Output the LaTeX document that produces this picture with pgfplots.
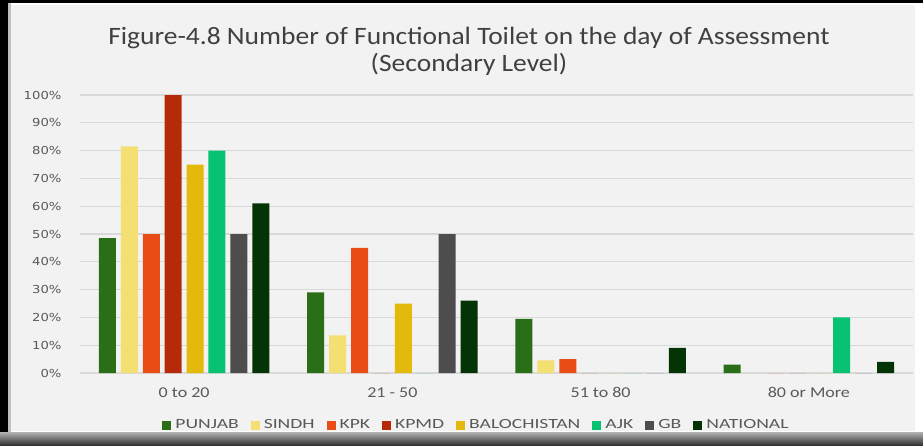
\documentclass[border=0pt]{standalone}
\usepackage{pgfplots}
\pgfplotsset{compat=1.18}
\usepackage{fontspec}
\setmainfont{Carlito}
\newfontfamily\titlefont{Carlito}[FakeStretch=1.1]
\newfontfamily\yfont{DejaVu Sans}[FakeStretch=1.2]
\newfontfamily\xfont{Carlito}[FakeStretch=1.2]
\newfontfamily\legfont{Carlito}[FakeStretch=1.4]
\definecolor{cPunjab}{HTML}{2A6E17}
\definecolor{cSindh}{HTML}{F4DF72}
\definecolor{cKPK}{HTML}{E84C17}
\definecolor{cKPMD}{HTML}{B52A09}
\definecolor{cBalo}{HTML}{E3B90B}
\definecolor{cAJK}{HTML}{07C270}
\definecolor{cGB}{HTML}{4D4D4D}
\definecolor{cNat}{HTML}{043305}
\definecolor{bgc}{HTML}{F2F2F2}
\definecolor{gridc}{HTML}{D9D9D9}
\definecolor{txt}{HTML}{595959}
\definecolor{ttl}{HTML}{404040}
\begin{document}
\begin{tikzpicture}
% frame
\fill[white] (-80pt,-72pt) rectangle (843pt,373pt);
\fill[black] (-80pt,-72pt) rectangle (-72pt,373pt);
\fill[black] (-80pt,370pt) rectangle (843pt,373pt);
\shade[top color=gray!60, bottom color=black!80] (-80pt,-72pt) rectangle (843pt,-59pt);
\fill[gray!50] (-72pt,-59pt) rectangle (-69pt,370pt);
\fill[bgc] (-69pt,-58pt) rectangle (835pt,368pt);
\node[text=ttl, font=\titlefont\fontsize{25}{27}\selectfont, align=center] at (389pt,322pt)
  {Figure-4.8 Number of Functional Toilet on the day of Assessment\\(Secondary Level)};
\begin{axis}[
  at={(0pt,0pt)}, anchor=south west,
  scale only axis, width=833pt, height=278pt,
  ybar=4.9pt, bar width=17pt,
  xmin=-0.5, xmax=3.5, ymin=0, ymax=100,
  xtick={0,1,2,3},
  xticklabels={0 to 20, 21 - 50, 51 to 80, 80 or More},
  ytick={0,10,...,100},
  yticklabels={0\%,10\%,20\%,30\%,40\%,50\%,60\%,70\%,80\%,90\%,100\%},
  ymajorgrids, grid style={gridc, line width=1.2pt},
  axis line style={draw=none},
  axis x line*=bottom,
  x axis line style={draw=gridc, line width=1.2pt},
  major tick length=0pt,
  tick style={draw=none},
  yticklabel style={text=txt, font=\yfont\fontsize{11}{13}\selectfont, xshift=-15pt},
  xticklabel style={text=txt, font=\xfont\fontsize{15}{17}\selectfont, yshift=-11pt},
  legend columns=8,
  legend style={at={(0.476,0)}, anchor=center, yshift=-52pt, draw=none, fill=none,
    font=\legfont\fontsize{14}{16}\selectfont, text=txt,
    /tikz/every odd column/.append style={column sep=2pt},
    /tikz/every even column/.append style={column sep=10pt}},
  legend image code/.code={\fill[#1] (0pt,-4.5pt) rectangle (9pt,4.5pt);},
  clip=false,
]
\addplot[fill=cPunjab, draw=none] coordinates {(0,48.5) (1,29) (2,19.5) (3,3)};
\addplot[fill=cSindh, draw=none] coordinates {(0,81.5) (1,13.5) (2,4.5) (3,0)};
\addplot[fill=cKPK, draw=none] coordinates {(0,50) (1,45) (2,5) (3,0)};
\addplot[fill=cKPMD, draw=none] coordinates {(0,100) (1,0) (2,0) (3,0)};
\addplot[fill=cBalo, draw=none] coordinates {(0,75) (1,25) (2,0) (3,0)};
\addplot[fill=cAJK, draw=none] coordinates {(0,80) (1,0) (2,0) (3,20)};
\addplot[fill=cGB, draw=none] coordinates {(0,50) (1,50) (2,0) (3,0)};
\addplot[fill=cNat, draw=none] coordinates {(0,61) (1,26) (2,9) (3,4)};
\legend{PUNJAB, SINDH, KPK, KPMD, BALOCHISTAN, AJK, GB, NATIONAL}
\end{axis}
\end{tikzpicture}
\end{document}
